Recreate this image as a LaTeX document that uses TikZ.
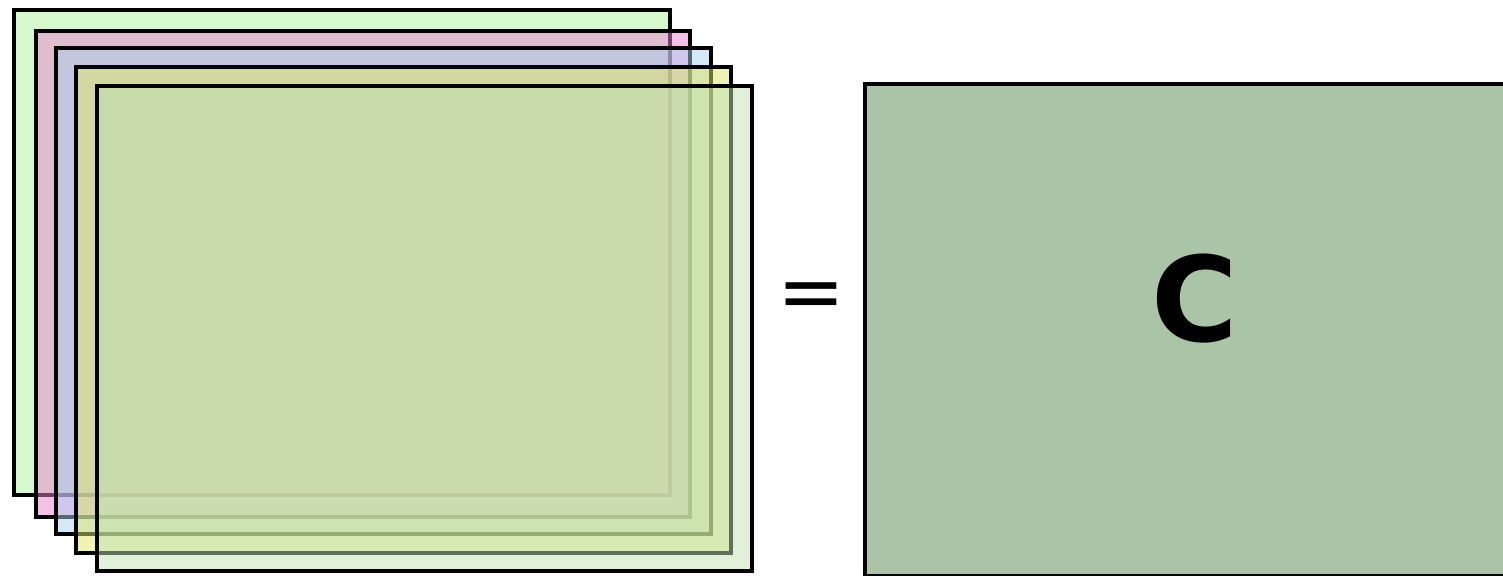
\documentclass[tikz,border=0pt]{standalone}
\usepackage{fontspec}
\setmainfont{DejaVu Sans}
\definecolor{layerA}{RGB}{171,241,153}
\definecolor{layerB}{RGB}{235,129,209}
\definecolor{layerC}{RGB}{169,209,241}
\definecolor{layerD}{RGB}{224,230,104}
\definecolor{layerE}{RGB}{193,226,180}
\definecolor{resultfill}{RGB}{170,196,168}
\tikzset{
  layer/.style={draw=black, line width=3.2pt, fill opacity=0.5},
  result/.style={draw=black, line width=4.5pt, fill=resultfill},
}
\begin{document}
\begin{tikzpicture}[x=1pt, y=-1pt]
\useasboundingbox (0,0) rectangle (1503,575);
\clip (0,0) rectangle (1503,575);
% stack of translucent layers, back to front
\draw[layer, fill=layerA] (14,10) rectangle (670,495);
\draw[layer, fill=layerB] (36,31) rectangle (690,517);
\draw[layer, fill=layerC] (56,48) rectangle (711,534);
\draw[layer, fill=layerD] (76,67) rectangle (731,553);
\draw[layer, fill=layerE] (97,86) rectangle (752,571);
% equals sign
\node[anchor=base, inner sep=0pt, font=\fontsize{81}{81}\selectfont] (eq) at (811,319) {=};
% resulting matrix
\draw[result] (865,84) rectangle (1520,576);
\node[anchor=base, inner sep=0pt, font=\fontsize{118}{118}\selectfont\bfseries] (c) at (1195,341) {C};
\end{tikzpicture}
\end{document}
